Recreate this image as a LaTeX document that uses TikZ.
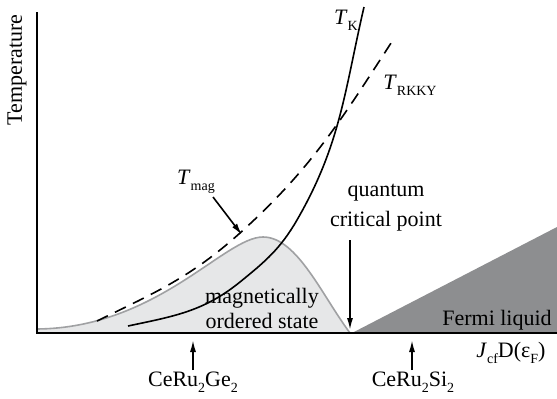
\documentclass[tikz,border=0pt]{standalone}
\usepackage{fontspec}
\setmainfont{Liberation Serif}
\usetikzlibrary{arrows.meta}
\definecolor{ordfill}{HTML}{E6E7E8}
\definecolor{ordline}{HTML}{A0A1A3}
\definecolor{fermi}{HTML}{8D8E90}
\newcommand{\lo}[1]{\raisebox{-0.6ex}{\scriptsize #1}}
\begin{document}
\begin{tikzpicture}[x=25pt,y=25pt,font=\fontsize{11}{14}\selectfont,
 tip/.style={-{Latex[length=6pt,width=3pt]},thick}]
\useasboundingbox (-0.74,-1.30) rectangle (10.40,6.66);
% ordered dome and Fermi liquid wedge
\fill[ordfill] (0,0.08) .. controls (2.4,0.1) and (3.75,1.92) .. (4.52,1.92)
 .. controls (5.2,1.92) and (5.7,0.75) .. (6.26,0) -- (0,0) -- cycle;
\draw[ordline,thick] (0,0.08) .. controls (2.4,0.1) and (3.75,1.92) .. (4.52,1.92)
 .. controls (5.2,1.92) and (5.7,0.75) .. (6.26,0);
\fill[fermi] (6.3,0) -- (10.4,0) -- (10.4,2.12) -- cycle;
% axes
\draw[line width=1pt] (0,6.42) -- (0,0) -- (10.4,0);
% T_RKKY and T_K
\draw[thick,dash pattern=on 6pt off 4pt] (1.2,0.24) to[out=26,in=-138] (4.06,2.0)
 to[out=42,in=-123] (7.12,5.86);
\draw[thick] (1.82,0.14) to[out=12,in=-141] (4.06,1.02) to[out=39,in=-120] (5.2,2.26)
 to[out=60,in=-103] (6.54,6.52);
% labels
\node[rotate=90] (temp) at (-0.4,5.26) {Temperature};
\node (tk) at (6.18,6.26) {\textit{T}\lo{K}};
\node (trkky) at (7.46,4.96) {\textit{T}\lo{RKKY}};
\node (tmag) at (3.18,3.02) {\textit{T}\lo{mag}};
\node[align=center,font=\fontsize{11}{15}\selectfont] (qcp) at (6.98,2.5) {quantum\\critical point};
\node[align=center,font=\fontsize{11}{12.5}\selectfont] (mos) at (4.5,0.5) {magnetically\\ordered state};
\node (fl) at (9.2,0.26) {Fermi liquid};
\node (jcf) at (9.48,-0.4) {\textit{J}\lo{cf}D(ε\lo{F})};
\node (ge) at (3.12,-0.98) {CeRu\lo{2}Ge\lo{2}};
\node (si) at (7.52,-0.98) {CeRu\lo{2}Si\lo{2}};
\coordinate (peak) at (4.1,1.96);
\coordinate (qc) at (6.26,0.06);
% arrows
\draw[tip] (3.52,2.72) -- (peak);
\draw[tip] (6.26,1.86) -- (qc);
\draw[tip] (3.12,-0.74) -- (3.12,-0.14);
\draw[tip] (7.5,-0.74) -- (7.5,-0.14);
\end{tikzpicture}
\end{document}
